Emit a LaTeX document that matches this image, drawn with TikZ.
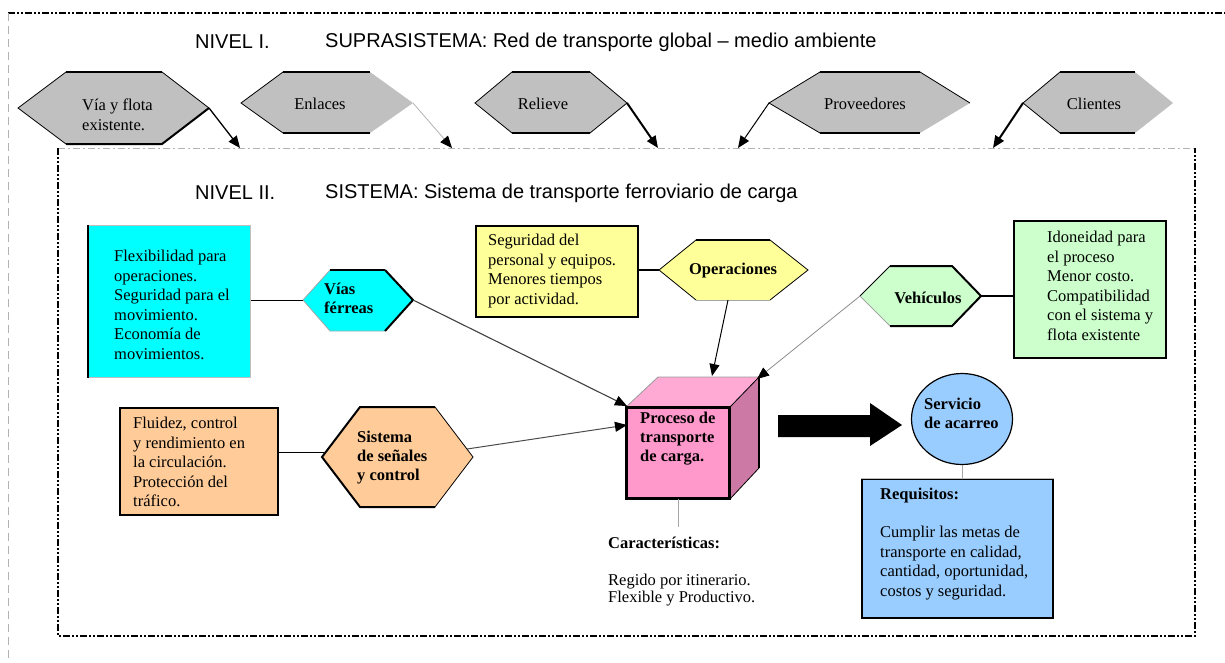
\documentclass[tikz,border=0pt]{standalone}
\usepackage{fontspec}
\setmainfont{Liberation Serif}
\newfontfamily\hdfont{Liberation Sans}
\usetikzlibrary{arrows.meta,shapes.geometric}
\definecolor{hexgray}{HTML}{C0C0C0}
\definecolor{cyanc}{HTML}{00FFFF}
\definecolor{yellowc}{HTML}{FFFF99}
\definecolor{greenc}{HTML}{CCFFCC}
\definecolor{orangec}{HTML}{FFCC99}
\definecolor{bluec}{HTML}{99CCFF}
\definecolor{pinkfront}{HTML}{FF99CC}
\definecolor{pinktop}{HTML}{FFAAD4}
\definecolor{pinkside}{HTML}{CC79A6}
\newcommand\hexa[8]{%
  \coordinate (#1-w) at (#2,#7);
  \coordinate (#1-nw) at (#3,#6);
  \coordinate (#1-ne) at (#4,#6);
  \coordinate (#1-e) at (#5,#7);
  \coordinate (#1-se) at (#4,#8);
  \coordinate (#1-sw) at (#3,#8);}
\newcommand\hexfill[2]{\fill[#2] (#1-w)--(#1-nw)--(#1-ne)--(#1-e)--(#1-se)--(#1-sw)--cycle;}
\tikzset{
  body/.style={font=\fontsize{16.5}{19.5}\selectfont, align=left, inner sep=0pt},
  bodyb/.style={font=\fontsize{16.5}{19}\selectfont\bfseries, align=left, inner sep=0pt},
  hdr/.style={font=\hdfont\fontsize{20}{24}\selectfont, inner sep=0pt, anchor=west},
  tipa/.style={-{Triangle[length=12pt,width=10pt,color=black]}},
  tk/.style={line width=2pt},
  tn/.style={line width=0.8pt},
  lg/.style={line width=0.8pt, black!35},
  boxx/.style={draw, line width=2pt, anchor=north west, inner sep=0pt},
}
\begin{document}
\begin{tikzpicture}[x=1pt,y=-1pt]
\useasboundingbox (0,0) rectangle (1225,662);
% outer frame
\draw[line width=1.3pt, dash pattern=on 7pt off 2pt on 2pt off 2pt on 2pt off 2pt] (8,13) -- (1225,13);
\draw[black!30, line width=0.6pt, dash pattern=on 8pt off 5pt] (8,13) -- (8,662);
% headers
\node[hdr] (n1) at (195,42) {NIVEL I.};
\node[hdr] (s1) at (325,42) {SUPRASISTEMA: Red de transporte global – medio ambiente};
\node[hdr] (n2) at (195,193) {NIVEL II.};
\node[hdr] (s2) at (325,193) {SISTEMA: Sistema de transporte ferroviario de carga};
% inner frame
\draw[black!30, line width=0.8pt, dash pattern=on 7pt off 3pt on 2pt off 3pt] (58,148) -- (1195,148);
\draw[line width=1.6pt, dash pattern=on 7pt off 2pt on 2pt off 2pt on 2pt off 2pt] (58,148) -- (58,636) -- (1195,636) -- (1195,148);
\coordinate (t1) at (240,148);
\coordinate (t2) at (452,148);
\coordinate (t3) at (658,148);
\coordinate (t4) at (738,148);
\coordinate (t5) at (993,148);
% ---- level I hexagons
\hexa{via}{18}{66}{162}{209}{72}{108}{144}
\hexfill{via}{hexgray}
\draw[tn] (via-ne)--(via-e); \draw[tn] (via-sw)--(via-w)--(via-nw);
\draw[tk] (via-nw)--(via-ne); \draw[tk] (via-sw)--(via-se)--(via-e);
\node[body, anchor=west] (viat) at (82,115) {Vía y flota\\existente.};
\hexa{enl}{241}{283}{370}{413}{72}{103}{133}
\hexfill{enl}{hexgray}
\draw[tn] (enl-sw)--(enl-w)--(enl-nw); \draw[tk] (enl-nw)--(enl-ne); \draw[tk] (enl-sw)--(enl-se);
\node[body] (enlt) at (320,104) {Enlaces};
\hexa{rel}{475}{512}{590}{627}{72}{103}{133}
\hexfill{rel}{hexgray}
\draw[tn] (rel-sw)--(rel-w)--(rel-nw); \draw[tn] (rel-ne)--(rel-e)--(rel-se);
\draw[tk] (rel-nw)--(rel-ne); \draw[tk] (rel-sw)--(rel-se);
\node[body] (relt) at (543,104) {Relieve};
\hexa{prov}{769}{820}{920}{970}{72}{103}{133}
\hexfill{prov}{hexgray}
\draw[tn] (prov-sw)--(prov-w)--(prov-nw); \draw[tn] (prov-ne)--(prov-e);
\draw[tk] (prov-nw)--(prov-ne); \draw[tk] (prov-sw)--(prov-se);
\node[body] (provt) at (865,104) {Proveedores};
\hexa{cli}{1023}{1060}{1135}{1173}{72}{103}{133}
\hexfill{cli}{hexgray}
\draw[tn] (cli-sw)--(cli-w)--(cli-nw);
\draw[tk] (cli-nw)--(cli-ne); \draw[tk] (cli-sw)--(cli-se);
\node[body] (clit) at (1094,104) {Clientes};
% level I arrows
\draw[tipa, line width=1.3pt] (via-e) -- (t1);
\draw[tipa, line width=0.8pt, black!30] (enl-e) -- (t2);
\draw[tipa, line width=2pt] (rel-e) -- (t3);
\draw[tipa, line width=1pt] (prov-w) -- (t4);
\draw[tipa, line width=2pt] (cli-w) -- (t5);
% ---- level II
% cyan
\node[boxx, draw=black!25, line width=0.8pt, fill=cyanc, minimum width=162pt, minimum height=152pt] (cbox) at (88,225) {};
\draw[tk] (cbox.north west) -- (cbox.south west);
\node[body, anchor=west] (cboxt) at (114,305) {Flexibilidad para\\operaciones.\\Seguridad para el\\movimiento.\\Economía de\\movimientos.};
\hexa{vias}{303}{330}{385}{413}{270}{300}{331}
\hexfill{vias}{cyanc}
\draw[lg] (vias-ne)--(vias-e); \draw[lg] (vias-se)--(vias-sw)--(vias-w)--(vias-nw);
\draw[tk] (vias-nw)--(vias-ne); \draw[tk] (vias-ne)--(vias-e)--(vias-se);
\node[bodyb, anchor=west] (viast) at (324,298) {Vías\\férreas};
\draw[tn] (cbox.east |- vias-w) -- (vias-w);
% yellow
\node[boxx, fill=yellowc, minimum width=162pt, minimum height=91pt] (ybox) at (475,225) {};
\node[body, anchor=west] (yboxt) at (488,271) {Seguridad del\\personal y equipos.\\Menores tiempos\\por actividad.};
\hexa{ope}{659}{696}{770}{808}{240}{270}{300}
\hexfill{ope}{yellowc}
\draw[tn] (ope-sw)--(ope-w)--(ope-nw); \draw[tn] (ope-ne)--(ope-e)--(ope-se);
\draw[lg] (ope-sw)--(ope-se);
\draw[tk] (ope-nw)--(ope-ne);
\node[bodyb] (opet) at (733,271) {Operaciones};
\draw[tk] (ybox.east |- ope-w) -- (ope-w);
\coordinate (ope-b) at (728,300);
% green
\node[boxx, fill=greenc, minimum width=152pt, minimum height=137pt] (gbox) at (1013,220) {};
\node[body, anchor=west] (gboxt) at (1047,286) {Idoneidad para\\el proceso\\Menor costo.\\Compatibilidad\\con el sistema y\\flota existente};
\hexa{veh}{860}{890}{952}{981}{266}{296}{326}
\hexfill{veh}{greenc}
\draw[tn] (veh-w)--(veh-nw); \draw[lg] (veh-w)--(veh-sw);
\draw[tk] (veh-nw)--(veh-ne)--(veh-e)--(veh-se)--(veh-sw);
\node[bodyb] (veht) at (928,298) {Vehículos};
\draw[tk] (veh-e) -- (veh-e -| gbox.west);
% orange
\node[boxx, fill=orangec, minimum width=158pt, minimum height=107pt] (obox) at (119,407) {};
\node[body, anchor=west] (oboxt) at (133,462) {Fluidez, control\\y rendimiento en\\la circulación.\\Protección del\\tráfico.};
\hexa{sis}{322}{360}{435}{473}{407}{457}{507}
\hexfill{sis}{orangec}
\draw[tn] (sis-ne)--(sis-e)--(sis-se);
\draw[tk] (sis-se)--(sis-sw)--(sis-w)--(sis-nw)--(sis-ne);
\node[bodyb, anchor=west] (sist) at (357,458) {Sistema\\de señales\\y control};
\draw[tn] (obox.east |- 0,452) -- (324,452);
\coordinate (sis-a) at (467,449);
% cube
\node[draw, line width=2pt, fill=pinkfront, minimum width=102pt, minimum height=90pt, inner sep=0pt] (cube) at (678,453) {};
\coordinate (cube-bl) at (658,377);
\coordinate (cube-br) at (759,377);
\coordinate (cube-rb) at (759,468);
\fill[pinktop] (cube.north west) -- (cube-bl) -- (cube-br) -- (cube.north east) -- cycle;
\fill[pinkside] (cube.north east) -- (cube-br) -- (cube-rb) -- (cube.south east) -- cycle;
\draw[tn, black!40] (cube.north west) -- (cube-bl) -- (cube-br);
\draw[tk] (cube-br) -- (cube-rb);
\draw[tn] (cube-rb) -- (cube.south east);
\draw[tn] (cube.north east) -- (cube-br);
\draw[line width=2pt] (cube.north west) rectangle (cube.south east);
\node[bodyb, anchor=west] (cubet) at (640,439) {Proceso de\\transporte\\de carga.};
\coordinate (cin1) at (627,406);
\coordinate (cin2) at (627,425);
\coordinate (cin3) at (712,376);
\coordinate (cin4) at (757,379);
\draw[tipa, line width=1.1pt, black!75] (vias-e) -- (cin1);
\draw[tipa, line width=1pt, black!70] (sis-a) -- (cin2);
\draw[tipa, line width=1pt] (ope-b) -- (cin3);
\draw[tipa, line width=0.8pt, black!45] (veh-w) -- (cin4);
\coordinate (carT) at (678,527);
\draw[lg] (cube.south) -- (carT);
\node[bodyb, anchor=west] (cart) at (608,543) {Características:};
\node[font=\fontsize{16.5}{17.5}\selectfont, align=left, inner sep=0pt, anchor=west] (cart2) at (608,590) {Regido por itinerario.\\Flexible y Productivo.};
% big arrow
\fill (778,415) -- (870,415) -- (870,403) -- (902,425) -- (870,446) -- (870,437) -- (778,437) -- cycle;
% service
\node[ellipse, draw, line width=1.2pt, fill=bluec, minimum width=101pt, minimum height=91pt, inner sep=0pt] (serv) at (962,419) {};
\node[bodyb, anchor=west] (servt) at (924,413) {Servicio\\de acarreo};
\node[boxx, fill=bluec, minimum width=191pt, minimum height=139pt] (rbox) at (861,478) {};
\draw[line width=1pt, black!25] (rbox.north west) -- (rbox.north east);
\draw[lg] (serv.south) -- (serv.south |- rbox.north);
\node[bodyb, anchor=west] (rboxh) at (880,496) {Requisitos:};
\node[body, anchor=west] (rboxt) at (880,563) {Cumplir las metas de\\transporte en calidad,\\cantidad, oportunidad,\\costos y seguridad.};
\end{tikzpicture}
\end{document}
